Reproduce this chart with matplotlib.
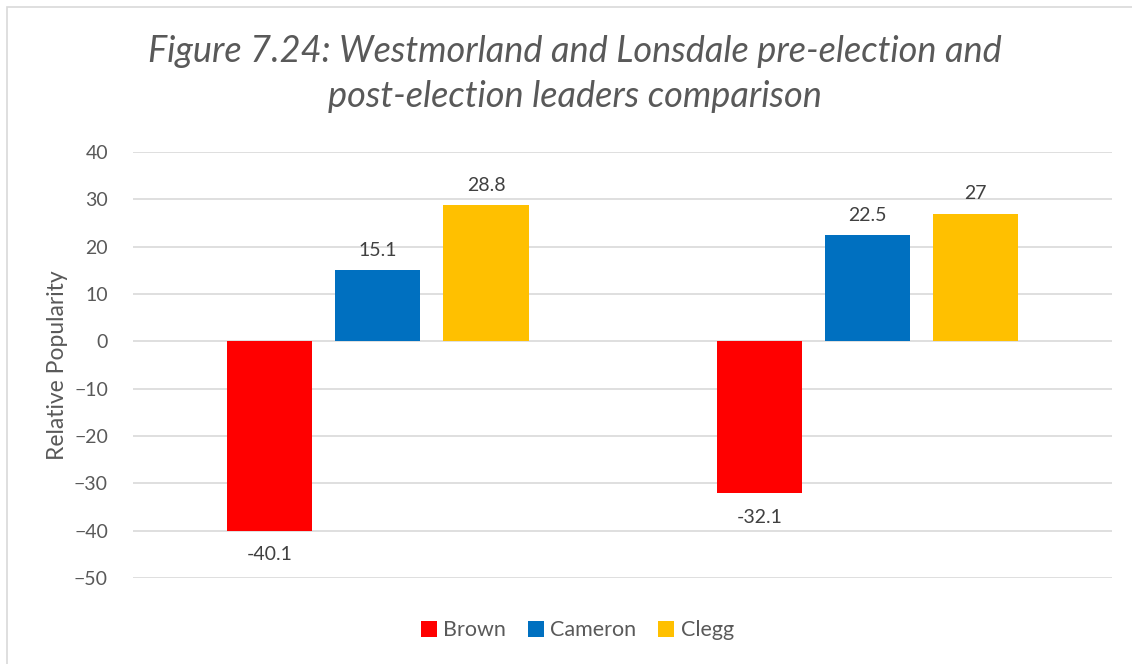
import numpy as np
import matplotlib.pyplot as plt
from matplotlib.patches import Rectangle

# data
groups = ['Pre-election', 'Post-election']
leaders = ['Brown', 'Cameron', 'Clegg']
brown = [-40.1, -32.1]
cameron = [15.1, 22.5]
clegg = [28.8, 27]
colors = ['#FF0000', '#0070C0', '#FFC000']

plt.rcParams['font.family'] = ['Lato', 'DejaVu Sans']
grey = '#595959'

fig = plt.figure(figsize=(11.32, 6.64), dpi=100)
ax = fig.add_axes([0.1175, 0.1295, 0.865, 0.6416])

# light frame like the excel chart area
fig.patches.append(Rectangle((7/1132, -0.01), 1.1, 1 - 7/664 + 0.01, transform=fig.transFigure,
                             fill=False, edgecolor='#D9D9D9', linewidth=1.2))

x = np.arange(len(groups))
w = 0.174
step = 0.221
series = [brown, cameron, clegg]
for i, (name, vals) in enumerate(zip(leaders, series)):
    bars = ax.bar(x + (i - 1) * step, vals, w, color=colors[i], label=name, zorder=3)
    for b, v in zip(bars, vals):
        lbl = ('%g' % v)
        if v >= 0:
            ax.annotate(lbl, (b.get_x() + b.get_width() / 2, v), xytext=(0, 8),
                        textcoords='offset points', ha='center', va='bottom',
                        fontsize=14, color='#404040')
        else:
            ax.annotate(lbl, (b.get_x() + b.get_width() / 2, v), xytext=(0, -11),
                        textcoords='offset points', ha='center', va='top',
                        fontsize=14, color='#404040')

ax.set_xlim(-0.5, 1.5)
ax.set_ylim(-50, 40)
ax.set_yticks(np.arange(-50, 41, 10))
ax.set_xticks([])
ax.grid(axis='y', color='#D9D9D9', linewidth=1.2, zorder=0)
for s in ax.spines.values():
    s.set_visible(False)
ax.tick_params(axis='y', length=0, labelsize=14, labelcolor=grey, pad=18)
ax.set_ylabel('Relative Popularity', fontsize=16.5, color=grey)
ax.yaxis.set_label_coords(58/1132, 1 - 365/664, transform=fig.transFigure)
ax.yaxis.label.set_va('center')

fig.text(0.508, 0.889, 'Figure 7.24: Westmorland and Lonsdale pre-election and\npost-election leaders comparison',
         ha='center', va='center', fontsize=26, style='italic', color=grey, linespacing=1.45)

ax.legend(loc='center', bbox_to_anchor=(0.51, 0.051), bbox_transform=fig.transFigure,
          ncol=3, frameon=False, fontsize=15.5, handlelength=0.75, handleheight=0.75,
          handletextpad=0.3, columnspacing=1.0, labelcolor=grey)

fig.savefig('out.png', dpi=100)
